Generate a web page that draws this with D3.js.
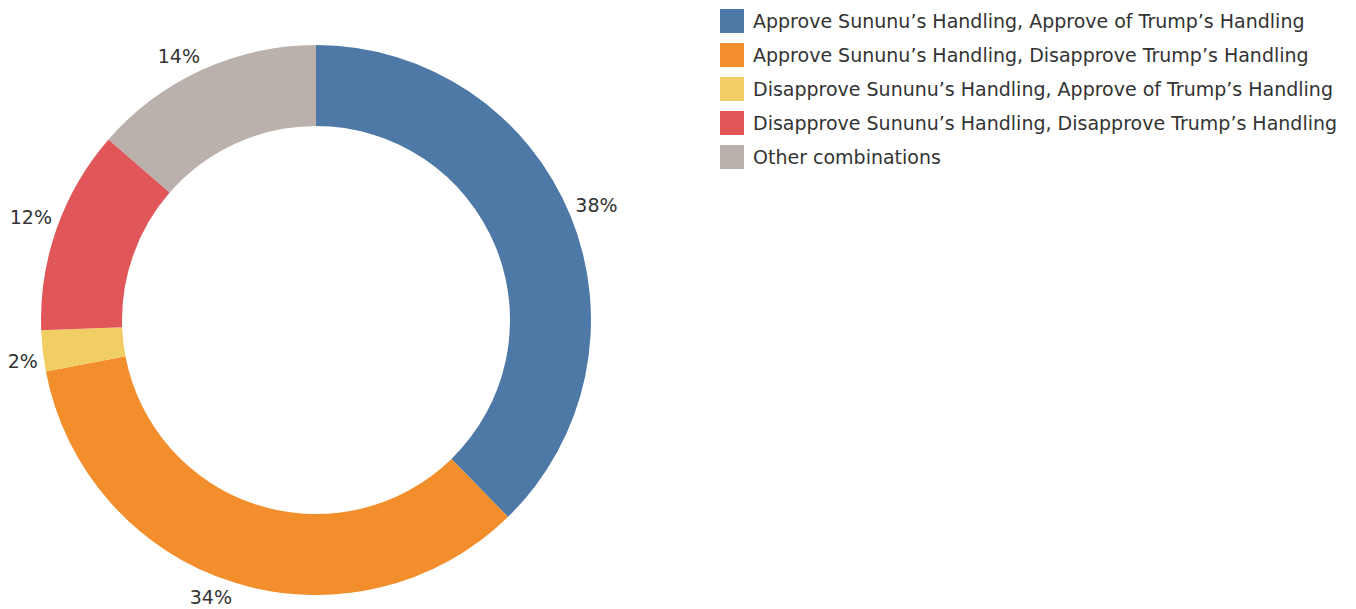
<!DOCTYPE html>
<html>
<head>
<meta charset="utf-8">
<script src="https://cdn.jsdelivr.net/npm/d3@7"></script>
<style>
  body { margin: 0; background: #fff; }
  text { font-family: "DejaVu Sans", sans-serif; fill: #333; }
</style>
</head>
<body>
<div class="DonutChart"></div>
<script>
/* Data */
const categories = [
    "Approve Sununu\u2019s Handling, Approve of Trump\u2019s Handling",
    "Approve Sununu\u2019s Handling, Disapprove Trump\u2019s Handling",
    "Disapprove Sununu\u2019s Handling, Approve of Trump\u2019s Handling",
    "Disapprove Sununu\u2019s Handling, Disapprove Trump\u2019s Handling",
    "Other combinations"
];
const shares = [37.7, 34.3, 2.4, 12.0, 13.6];
const colors = ["#4e79a7", "#f28e2b", "#f1ce63", "#e15759", "#bab0ac"];

const data = categories.map((c, i) => ({ name: c, value: shares[i], color: colors[i] }));

/* Dimensions */
const width = 1356;
const height = 609;
const cx = 316, cy = 320;
const outerR = 275, innerR = 194;

const svg = d3.select(".DonutChart")
    .append("svg")
    .attr("width", width)
    .attr("height", height);

const pie = d3.pie()
    .value(d => d.value)
    .sort(null);

const arc = d3.arc()
    .innerRadius(innerR)
    .outerRadius(outerR);

const arcs = pie(data);

const g = svg.append("g")
    .attr("transform", `translate(${cx},${cy})`);

g.selectAll("path")
    .data(arcs)
    .enter()
    .append("path")
    .attr("d", arc)
    .attr("fill", d => d.data.color);

// labels sit just outside the ring, pushed away from the mid point
const labelR = outerR + 5;
const boxH = 19;
g.selectAll(".label")
    .data(arcs)
    .enter()
    .append("text")
    .attr("class", "label")
    .each(function (d) {
        const a = (d.startAngle + d.endAngle) / 2;
        const s = Math.sin(a), c = Math.cos(a);
        d3.select(this)
            .attr("x", labelR * s)
            .attr("y", -labelR * c + (c > 0 ? -boxH / 2 : boxH / 2))
            .attr("text-anchor", s > 0 ? "start" : "end");
    })
    .attr("dominant-baseline", "central")
    .style("font-size", "19px")
    .text(d => Math.round(d.data.value) + "%");

/* Legend */
const legend = svg.append("g")
    .attr("transform", "translate(720,9)");

const rows = legend.selectAll("g")
    .data(data)
    .enter()
    .append("g")
    .attr("transform", (d, i) => `translate(0,${i * 34})`);

rows.append("rect")
    .attr("width", 24)
    .attr("height", 24)
    .attr("fill", d => d.color);

rows.append("text")
    .attr("x", 33)
    .attr("y", 12)
    .attr("dominant-baseline", "central")
    .style("font-size", "19px")
    .text(d => d.name);
</script>
</body>
</html>
